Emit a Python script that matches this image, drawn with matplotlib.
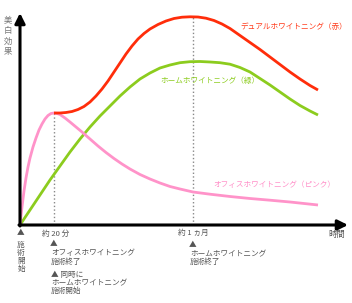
import matplotlib.pyplot as plt

plt.rcParams['font.family'] = ['Noto Sans CJK JP', 'DejaVu Sans']

# curves (time and effect in arbitrary units)
pink_t = [0, 2, 4, 6, 8, 10, 13, 16, 19, 22, 25, 28, 31, 34, 37, 40, 45, 50, 56, 62, 70, 78, 86,
          94, 102, 110, 120, 130, 140, 150, 160, 173, 190, 210, 230, 250, 270, 298]
pink_e = [0, 18, 34, 47, 58, 67, 78, 87, 95, 101, 106, 109.5, 111.5, 112, 111.5, 110.5, 107, 103,
          98, 93, 86, 79, 72.5, 66.5, 61, 56, 50.5, 46, 42, 38.5, 36, 33, 30.8, 28.5, 26.5, 24.8, 23, 20]

green_t = [0, 10, 20, 30, 40, 50, 60, 70, 80, 90, 100, 110, 120, 130, 140, 150, 160, 170, 180,
           190, 200, 210, 220, 230, 240, 250, 260, 270, 280, 290, 298]
green_e = [0, 15, 30, 45, 59, 73, 86, 98, 109, 119, 129, 138, 146, 152, 157, 160, 162.3, 163.3,
           163.5, 163, 162.3, 160.8, 157.5, 153, 146.5, 140, 133, 126, 119.5, 114, 110]

red_t = [34, 40, 46, 52, 58, 64, 70, 76, 82, 88, 94, 100, 106, 112, 118, 124, 130, 138, 146, 154,
         162, 170, 178, 186, 194, 202, 210, 220, 230, 240, 250, 260, 270, 280, 290, 298]
red_e = [112, 112, 112.5, 113.5, 115.5, 118.5, 123, 129, 136, 144, 153, 162, 171, 179, 186, 191.5,
         196, 200.5, 204, 206.5, 207.8, 208.2, 208, 206.8, 204.5, 201, 196.5, 189.5, 182.5, 175.5,
         168, 160.5, 153, 146, 139.5, 135]

mark_t = [34, 173]          # 約20分, 約1ヵ月
mark_top = [112, 208]

fig = plt.figure(figsize=(3.52, 3.03), dpi=100)
ax = fig.add_axes([20 / 352, 78 / 303, 325 / 352, 210 / 303])
ax.set_xlim(0, 325)
ax.set_ylim(0, 210)
ax.axis('off')

gray = '#555555'
for t, top in zip(mark_t, mark_top):
    ax.plot([t, t], [0, top], color='#888888', lw=1, ls=':', zorder=1)

ax.plot(green_t, green_e, color='#8ccc1e', lw=2, solid_capstyle='butt', zorder=3)
ax.plot(pink_t, pink_e, color='#ff93c9', lw=2, solid_capstyle='butt', zorder=4)
ax.plot(red_t, red_e, color='#ff2d0a', lw=2, solid_capstyle='butt', zorder=5)

# axes arrows
arrow = dict(arrowstyle='-|>,head_length=0.6,head_width=0.3', color='black', lw=2.2, shrinkA=0, shrinkB=0)
ax.annotate('', xy=(0, 212), xytext=(0, -1), arrowprops=arrow, annotation_clip=False, zorder=6)
ax.annotate('', xy=(328, 0), xytext=(-1, 0), arrowprops=arrow, annotation_clip=False, zorder=6)

fs = 5.5
ax.text(-12, 189, '美\n白\n効\n果', color='#777777', fontsize=fs + 0.5, ha='center', va='center', linespacing=1.2)
ax.text(220, 198, 'デュアルホワイトニング（赤）', color='#ff3a1a', fontsize=fs, ha='left', va='center')
ax.text(140, 144, 'ホームホワイトニング（緑）', color='#8ccc1e', fontsize=fs, ha='left', va='center')
ax.text(193, 40, 'オフィスホワイトニング（ピンク）', color='#ff8fc8', fontsize=fs, ha='left', va='center')
ax.text(325, -10, '時間', color=gray, fontsize=fs + 0.5, ha='right', va='center')

kw = dict(color=gray, fontsize=fs, clip_on=False, va='center')
ax.text(1, -8, '▲', ha='center', **kw)
ax.text(1, -32, '施\n術\n開\n始', ha='center', linespacing=1.0, **kw)
ax.text(22, -9, '約 20 分', ha='left', **kw)
ax.text(34, -19, '▲', ha='center', **kw)
ax.text(31, -32.5, 'オフィスホワイトニング\n施術終了', ha='left', va='center', color=gray,
        fontsize=fs, linespacing=1.05, clip_on=False)
ax.text(31, -58, '▲ 同時に\nホームホワイトニング\n施術開始', ha='left', va='center', color=gray,
        fontsize=fs, linespacing=1.05, clip_on=False)
ax.text(158, -8, '約 1 ヵ月', ha='left', **kw)
ax.text(173, -20, '▲', ha='center', **kw)
ax.text(170, -33, 'ホームホワイトニング\n施術終了', ha='left', va='center', color=gray,
        fontsize=fs, linespacing=1.0, clip_on=False)

fig.savefig('out.png', dpi=100)
